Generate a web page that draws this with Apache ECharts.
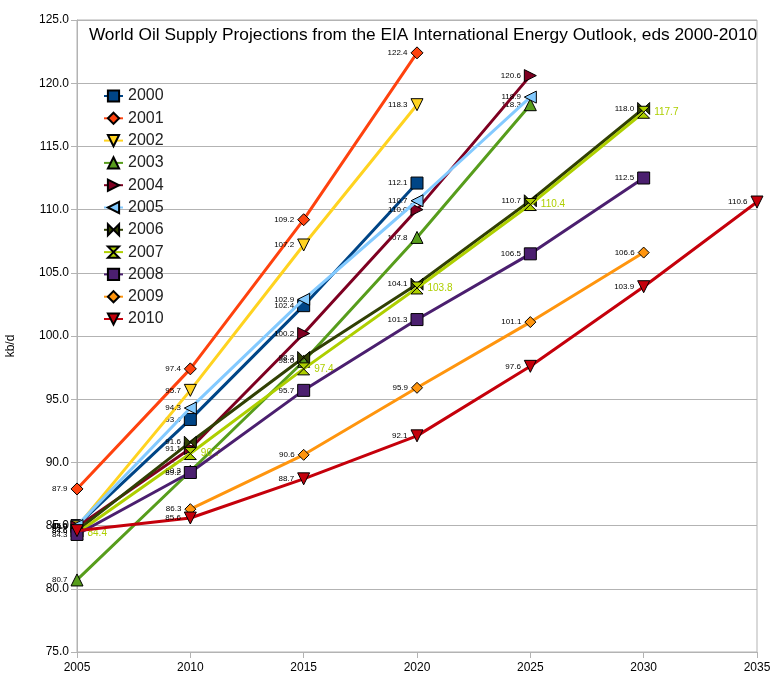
<!DOCTYPE html>
<html>
<head>
<meta charset="utf-8">
<script src="https://cdn.jsdelivr.net/npm/echarts@6/dist/echarts.min.js"></script>
<style>html,body{margin:0;padding:0;background:#fff}#c{width:772px;height:685px}</style>
</head>
<body>
<div id="c"></div>
<script>
const years = [2005, 2010, 2015, 2020, 2025, 2030, 2035];
const seriesNames = ['2000','2001','2002','2003','2004','2005','2006','2007','2008','2009','2010'];
const s2000 = [85.0, 93.4, 102.4, 112.1, null, null, null];
const s2001 = [87.9, 97.4, 109.2, 122.4, null, null, null];
const s2002 = [84.9, 95.7, 107.2, 118.3, null, null, null];
const s2003 = [80.7, 89.3, 98.0, 107.8, 118.3, null, null];
const s2004 = [84.9, 91.1, 100.2, 110.0, 120.6, null, null];
const s2005 = [85.0, 94.3, 102.9, 110.7, 118.9, null, null];
const s2006 = [84.6, 91.6, 98.3, 104.1, 110.7, 118.0, null];
const s2007 = [84.4, 90.7, 97.4, 103.8, 110.4, 117.7, null];
const s2008 = [84.3, 89.2, 95.7, 101.3, 106.5, 112.5, null];
const s2009 = [null, 86.3, 90.6, 95.9, 101.1, 106.6, null];
const s2010 = [84.6, 85.6, 88.7, 92.1, 97.6, 103.9, 110.6];
const allValues = [s2000, s2001, s2002, s2003, s2004, s2005, s2006, s2007, s2008, s2009, s2010];
const yTicks = {min: 75, max: 125, interval: 5};

const colors = ['#004586','#ff420e','#ffd320','#579d1c','#7e0021','#83caff','#314004','#aecf00','#4b1f6f','#ff950e','#c5000b'];
const symbols = [
  'rect', 'diamond',
  'path://M0,0 L10,0 L5,10 Z',
  'path://M5,0 L10,10 L0,10 Z',
  'path://M0,0 L10,5 L0,10 Z',
  'path://M10,0 L0,5 L10,10 Z',
  'path://M0,0 L5,5 L0,10 Z M10,0 L5,5 L10,10 Z',
  'path://M0,0 L10,0 L5,5 Z M0,10 L10,10 L5,5 Z',
  'rect', 'diamond',
  'path://M0,0 L10,0 L5,10 Z'
];
const symSizes = [12, 12, 12, 12, 12, 12, 12, 12, 12, 11, 12];

const series = seriesNames.map((name, i) => {
  const data = [];
  years.forEach((y, k) => { if (allValues[i][k] !== null) data.push([y, allValues[i][k]]); });
  const isG = name === '2007';
  return {
    name, type: 'line', data,
    symbol: symbols[i], symbolSize: symSizes[i],
    color: colors[i],
    lineStyle: {width: 3, color: colors[i]},
    itemStyle: {color: colors[i], borderColor: '#000', borderWidth: 1},
    label: {
      show: true,
      position: isG ? 'right' : 'left',
      distance: isG ? 4 : 3,
      color: isG ? '#aecf00' : '#000',
      fontSize: isG ? 10 : 8,
      fontFamily: 'Liberation Sans',
      formatter: p => p.value[1].toFixed(1)
    },
    emphasis: {disabled: true},
    z: 2 + i
  };
});

const chart = echarts.init(document.getElementById('c'), null, {renderer: 'canvas'});
chart.setOption({
  animation: false,
  backgroundColor: '#fff',
  textStyle: {fontFamily: 'Liberation Sans'},
  title: {
    text: 'World Oil Supply Projections from the EIA International Energy Outlook, eds 2000-2010',
    left: 418, textAlign: 'center', top: 22,
    textStyle: {fontSize: 17.3, fontWeight: 'normal', color: '#000', fontFamily: 'Liberation Sans'}
  },
  legend: {
    orient: 'vertical', left: 98, top: 83,
    itemWidth: 19, itemHeight: 14, itemGap: 6.3,
    textStyle: {fontSize: 16, color: '#222', lineHeight: 16, fontFamily: 'Liberation Sans'},
    data: seriesNames
  },
  grid: {left: 77, right: 15, top: 20, bottom: 33, containLabel: false, outerBoundsMode: 'none',
         show: true, borderColor: '#b3b3b3', borderWidth: 1, backgroundColor: 'transparent'},
  xAxis: {
    type: 'value', min: 2005, max: 2035, interval: 5,
    axisLine: {show: false},
    axisTick: {show: true, length: 6, lineStyle: {color: '#b3b3b3'}},
    axisLabel: {color: '#000', fontSize: 12, margin: 10, formatter: v => String(v)},
    splitLine: {show: false}
  },
  yAxis: {
    type: 'value', min: yTicks.min, max: yTicks.max, interval: yTicks.interval,
    name: 'kb/d', nameLocation: 'middle', nameGap: 60, nameRotate: 90,
    nameTextStyle: {color: '#000', fontSize: 12, padding: [0, 0, 0, -20]},
    axisLine: {show: true, lineStyle: {color: '#b3b3b3'}},
    axisTick: {show: true, length: 6, lineStyle: {color: '#b3b3b3'}},
    axisLabel: {color: '#000', fontSize: 12, margin: 8, formatter: v => v.toFixed(1)},
    splitLine: {show: true, lineStyle: {color: '#b3b3b3'}}
  },
  series
});
</script>
</body>
</html>
